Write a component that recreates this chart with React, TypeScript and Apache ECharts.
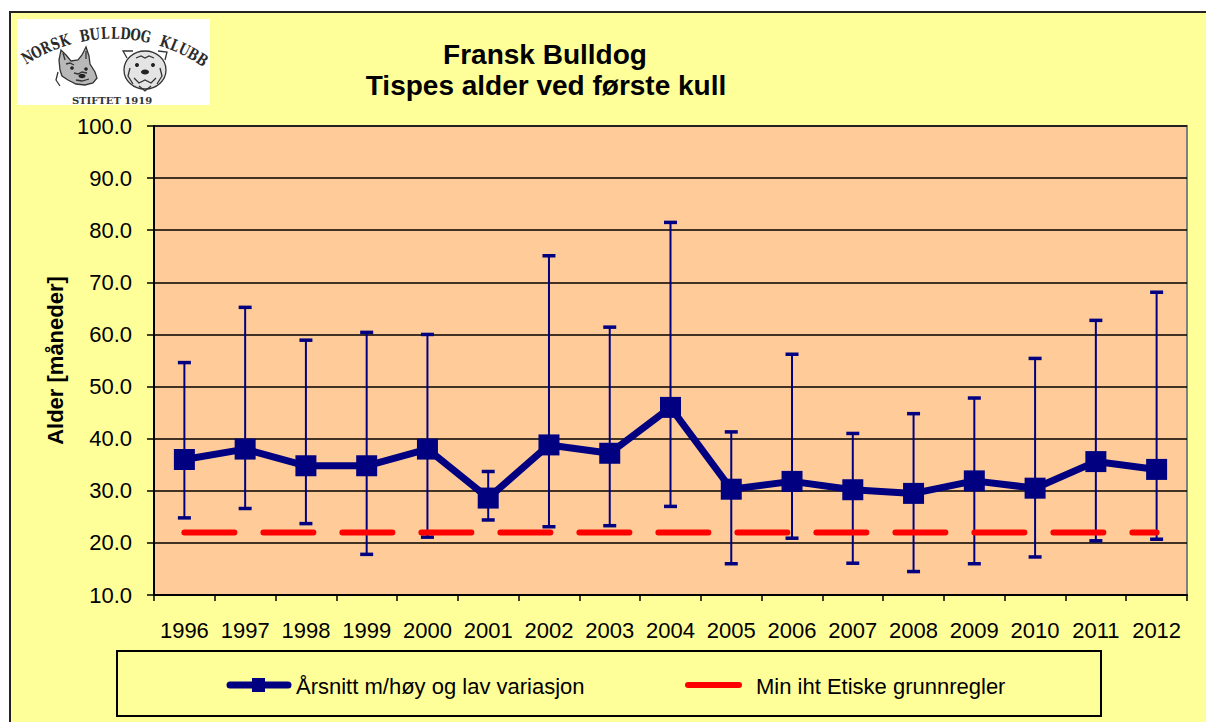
import React, { useEffect, useRef } from 'react';
import * as echarts from 'echarts';

const years = ['1996', '1997', '1998', '1999', '2000', '2001', '2002', '2003', '2004', '2005', '2006', '2007', '2008', '2009', '2010', '2011', '2012'];
const meanAge = [36.0, 38.0, 34.8, 34.8, 38.0, 28.6, 38.8, 37.2, 46.0, 30.3, 31.8, 30.2, 29.5, 31.9, 30.5, 35.6, 34.1];
const highAge = [54.6, 65.2, 58.9, 60.4, 60.0, 33.7, 75.1, 61.4, 81.5, 41.3, 56.2, 41.0, 44.8, 47.8, 55.4, 62.7, 68.1];
const lowAge = [24.8, 26.6, 23.7, 17.8, 21.1, 24.4, 23.1, 23.3, 27.0, 16.0, 20.9, 16.1, 14.5, 16.0, 17.3, 20.4, 20.7];
const minAge = [22, 22, 22, 22, 22, 22, 22, 22, 22, 22, 22, 22, 22, 22, 22, 22, 22];

const seriesNames = ['Årsnitt m/høy og lav variasjon', 'Min iht Etiske grunnregler'];
const titleLines = ['Fransk Bulldog', 'Tispes alder ved første kull'];
const yAxisName = 'Alder [måneder]';
const logoText = 'NORSK BULLDOG KLUBB';
const logoSub = 'STIFTET 1919';

const NAVY = '#000080';
const RED = '#FF0000';
const FONT = '"Liberation Sans", Arial, Helvetica, sans-serif';

function txt(x: number, y: number, text: string, font: string, align = 'center', rotation = 0, fill = '#000', scaleX = 1) {
  return {
    type: 'text',
    x,
    y,
    rotation,
    scaleX,
    z: 100,
    style: {
      text,
      font,
      fill,
      align,
      verticalAlign: 'middle',
      textAlign: align,
      textVerticalAlign: 'middle',
    },
  };
}

function buildLogo() {
  const els: any[] = [];
  els.push({ type: 'rect', z: 90, shape: { x: 17, y: 19, width: 193, height: 86 }, style: { fill: '#FFFFFF' } });
  const cx = 113, cy = 196, R = 163;
  const start = -31.6, step = 3.6;
  const chars = logoText.split('');
  chars.forEach((ch, k) => {
    if (ch === ' ') return;
    const th = ((start + step * k) * Math.PI) / 180;
    const x = cx + R * Math.sin(th);
    const y = cy - R * Math.cos(th);
    els.push(txt(x, y, ch, 'bold 16px "DejaVu Serif", serif', 'center', -th, '#2a2a2a', 0.74));
  });
  els.push(txt(112, 100, logoSub, 'bold 10px "DejaVu Serif", serif', 'center', 0, '#333'));
  const st = { stroke: '#333', lineWidth: 1.3, fill: 'none' };
  // French bulldog head
  els.push({ type: 'polygon', z: 94, shape: { points: [[60, 70], [59, 60], [61, 50], [66, 55], [71, 61], [78, 60], [82, 55], [86, 47], [89, 56], [90, 64], [95, 72], [97, 78], [93, 83], [85, 85], [76, 84], [68, 80], [62, 76]] }, style: { stroke: '#333', lineWidth: 1.3, fill: '#b8b8b8' } });
  els.push({ type: 'polyline', z: 95, shape: { points: [[63, 53], [65, 60]] }, style: st });
  els.push({ type: 'polyline', z: 95, shape: { points: [[86, 51], [86, 59]] }, style: st });
  els.push({ type: 'circle', z: 95, shape: { cx: 72, cy: 68, r: 1.8 }, style: { fill: '#222' } });
  els.push({ type: 'circle', z: 95, shape: { cx: 86, cy: 69, r: 1.8 }, style: { fill: '#222' } });
  els.push({ type: 'ellipse', z: 95, shape: { cx: 82, cy: 76, rx: 3.5, ry: 2.2 }, style: { fill: '#222' } });
  els.push({ type: 'polyline', z: 95, shape: { points: [[74, 73], [78, 74], [82, 72], [87, 73]] }, style: st });
  els.push({ type: 'polyline', z: 95, shape: { points: [[76, 80], [82, 81], [89, 79]] }, style: st });
  els.push({ type: 'polyline', z: 95, shape: { points: [[58, 72], [56, 80], [60, 86]] }, style: st });
  els.push({ type: 'polyline', z: 95, shape: { points: [[66, 64], [70, 63], [74, 65]] }, style: st });
  // English bulldog head
  els.push({ type: 'ellipse', z: 94, shape: { cx: 145, cy: 70, rx: 21, ry: 19 }, style: { stroke: '#333', lineWidth: 1.3, fill: '#e4e4e4' } });
  els.push({ type: 'polyline', z: 95, shape: { points: [[127, 58], [123, 51], [133, 51]] }, style: st });
  els.push({ type: 'polyline', z: 95, shape: { points: [[158, 51], [167, 52], [165, 60]] }, style: st });
  els.push({ type: 'circle', z: 95, shape: { cx: 137, cy: 65, r: 2 }, style: { fill: '#222' } });
  els.push({ type: 'circle', z: 95, shape: { cx: 153, cy: 65, r: 2 }, style: { fill: '#222' } });
  els.push({ type: 'ellipse', z: 95, shape: { cx: 145, cy: 72, rx: 4, ry: 2.5 }, style: { fill: '#222' } });
  els.push({ type: 'polyline', z: 95, shape: { points: [[134, 78], [139, 83], [145, 80], [151, 83], [156, 78]] }, style: st });
  els.push({ type: 'polyline', z: 95, shape: { points: [[139, 86], [145, 91], [151, 86]] }, style: st });
  els.push({ type: 'polyline', z: 95, shape: { points: [[136, 58], [141, 56], [145, 58], [149, 56], [154, 58]] }, style: st });
  els.push({ type: 'polyline', z: 95, shape: { points: [[130, 68], [128, 76], [133, 84]] }, style: st });
  els.push({ type: 'polyline', z: 95, shape: { points: [[160, 68], [162, 76], [157, 84]] }, style: st });
  return els;
}

function buildFrameAndLegend() {
  const els: any[] = [];
  els.push({ type: 'rect', z: 80, shape: { x: 0, y: 0, width: 1206, height: 11 }, style: { fill: '#FFFFFF' } });
  els.push({ type: 'rect', z: 80, shape: { x: 0, y: 0, width: 9, height: 722 }, style: { fill: '#FFFFFF' } });
  els.push({ type: 'line', z: 81, shape: { x1: 9, y1: 12, x2: 1206, y2: 12 }, style: { stroke: '#222', lineWidth: 2 } });
  els.push({ type: 'line', z: 81, shape: { x1: 10, y1: 11, x2: 10, y2: 722 }, style: { stroke: '#222', lineWidth: 2 } });
  // titles
  els.push(txt(545, 54, titleLines[0], `bold 28px ${FONT}`));
  els.push(txt(546, 85, titleLines[1], `bold 28px ${FONT}`));
  // legend box
  els.push({ type: 'rect', z: 100, shape: { x: 117, y: 651, width: 984, height: 65 }, style: { fill: 'none', stroke: '#000', lineWidth: 2 } });
  els.push({ type: 'line', z: 101, shape: { x1: 230, y1: 685, x2: 288, y2: 685 }, style: { stroke: NAVY, lineWidth: 7, lineCap: 'round' } });
  els.push({ type: 'rect', z: 102, shape: { x: 252, y: 678, width: 13, height: 14 }, style: { fill: NAVY } });
  els.push(txt(296, 686, seriesNames[0], `22px ${FONT}`, 'left'));
  els.push({ type: 'line', z: 101, shape: { x1: 688, y1: 685, x2: 739, y2: 685 }, style: { stroke: RED, lineWidth: 6, lineCap: 'round' } });
  els.push(txt(756, 686, seriesNames[1], `22px ${FONT}`, 'left'));
  return els;
}

export default function App() {
  const ref = useRef<HTMLDivElement>(null);
  useEffect(() => {
    if (!ref.current) return;
    const chart = echarts.init(ref.current, undefined, { renderer: 'svg' });
    const errData = years.map((_, i) => [i, lowAge[i], highAge[i]]);
    const option: any = {
      animation: false,
      backgroundColor: '#FFFF99',
      textStyle: { fontFamily: FONT },
      grid: {
        left: 154,
        right: 19,
        top: 126,
        bottom: 127,
        show: true,
        backgroundColor: '#FFCC99',
        borderColor: '#808080',
        borderWidth: 2,
      },
      xAxis: {
        type: 'category',
        data: years,
        boundaryGap: true,
        axisLine: { show: true, lineStyle: { color: '#000', width: 2 } },
        axisTick: { show: true, interval: 0, length: 6, lineStyle: { color: '#000', width: 1.5 } },
        axisLabel: { color: '#000', fontSize: 22, margin: 24, interval: 0, fontFamily: FONT },
        splitLine: { show: false },
      },
      yAxis: {
        type: 'value',
        min: 10,
        max: 100,
        interval: 10,
        name: yAxisName,
        nameLocation: 'middle',
        nameRotate: 90,
        nameGap: 86,
        nameTextStyle: { color: '#000', fontSize: 22, fontWeight: 'bold', fontFamily: FONT },
        axisLine: { show: true, lineStyle: { color: '#000', width: 2 } },
        axisTick: { show: true, length: 7, lineStyle: { color: '#000', width: 1.5 } },
        axisLabel: { color: '#000', fontSize: 22, margin: 22, fontFamily: FONT, formatter: (v: number) => v.toFixed(1) },
        splitLine: { show: true, lineStyle: { color: '#000', width: 1.5 } },
      },
      graphic: { elements: [...buildFrameAndLegend(), ...buildLogo()] },
      series: [
        {
          type: 'custom',
          name: 'range',
          z: 2,
          silent: true,
          encode: { x: 0, y: [1, 2] },
          data: errData,
          renderItem: (_params: any, api: any) => {
            const i = api.value(0);
            const lo = api.coord([i, api.value(1)]);
            const hi = api.coord([i, api.value(2)]);
            const hw = 6.5;
            return {
              type: 'group',
              children: [
                { type: 'line', shape: { x1: hi[0], y1: hi[1], x2: lo[0], y2: lo[1] }, style: { stroke: NAVY, lineWidth: 2 } },
                { type: 'line', shape: { x1: hi[0] - hw, y1: hi[1], x2: hi[0] + hw, y2: hi[1] }, style: { stroke: NAVY, lineWidth: 3.5 } },
                { type: 'line', shape: { x1: lo[0] - hw, y1: lo[1], x2: lo[0] + hw, y2: lo[1] }, style: { stroke: NAVY, lineWidth: 3.5 } },
              ],
            };
          },
        },
        {
          type: 'line',
          name: seriesNames[1],
          z: 3,
          data: minAge,
          symbol: 'none',
          silent: true,
          lineStyle: { color: RED, width: 6, type: [50, 29], cap: 'round' },
        },
        {
          type: 'line',
          name: seriesNames[0],
          z: 4,
          data: meanAge,
          symbol: 'rect',
          symbolSize: 21,
          silent: true,
          itemStyle: { color: NAVY },
          lineStyle: { color: NAVY, width: 7 },
        },
      ],
    };
    chart.setOption(option);
    return () => chart.dispose();
  }, []);
  return <div ref={ref} style={{ position: 'absolute', left: 0, top: 0, width: 1206, height: 722 }} />;
}
